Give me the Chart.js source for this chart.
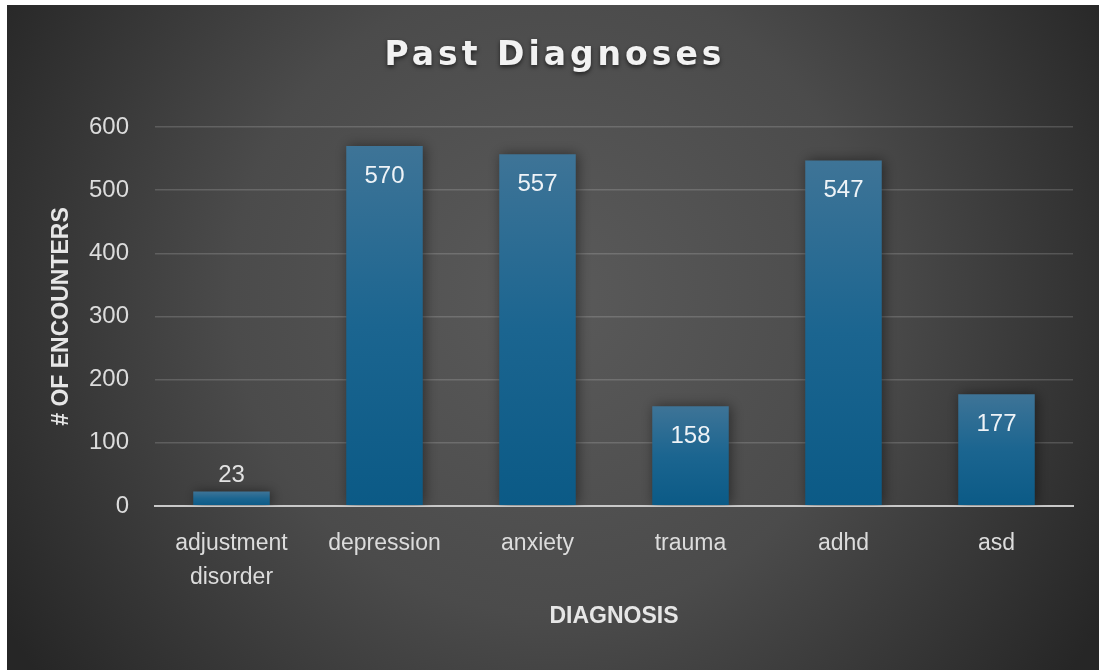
<!DOCTYPE html>
<html>
<head>
<meta charset="utf-8">
<script src="https://cdn.jsdelivr.net/npm/chart.js@4.4.1/dist/chart.umd.min.js"></script>
<style>
  html, body { margin: 0; padding: 0; background: #ffffff; }
  #wrap { position: absolute; left: 7px; top: 5px; width: 1092px; height: 665px; }
</style>
</head>
<body>
<div id="wrap"><canvas id="grafico"></canvas></div>
<script>
// Datos de la gráfica
const categorias = [['adjustment', 'disorder'], 'depression', 'anxiety', 'trauma', 'adhd', 'asd'];
const encuentros = [23, 570, 557, 158, 547, 177];
const ticksY = [0, 100, 200, 300, 400, 500, 600];

const titulo = 'Past Diagnoses';
const tituloX = 'DIAGNOSIS';
const tituloY = '# OF ENCOUNTERS';

// Fondo con degradado radial
const fondo = {
    id: 'fondo',
    beforeDraw(chart) {
        const { ctx, width, height } = chart;
        const g = ctx.createRadialGradient(546, 290, 0, 546, 290, 640);
        g.addColorStop(0, '#5a5a5a');
        g.addColorStop(0.5, '#4b4b4b');
        g.addColorStop(1, '#262626');
        ctx.save();
        ctx.fillStyle = g;
        ctx.fillRect(0, 0, width, height);
        ctx.restore();
    }
};

// Titulo con espaciado entre letras
const tituloPlugin = {
    id: 'tituloPlugin',
    afterDraw(chart) {
        const ctx = chart.ctx;
        ctx.save();
        ctx.font = 'bold 33px "DejaVu Sans"';
        ctx.letterSpacing = '4px';
        ctx.fillStyle = '#f2f2f2';
        ctx.textAlign = 'center';
        ctx.textBaseline = 'alphabetic';
        ctx.shadowColor = 'rgba(0,0,0,0.6)';
        ctx.shadowBlur = 4;
        ctx.shadowOffsetY = 2;
        ctx.fillText(titulo, chart.width / 2 + 2, 60);
        ctx.restore();
    }
};

// Sombra de las barras
const sombra = {
    id: 'sombra',
    beforeDatasetsDraw(chart) {
        const ctx = chart.ctx;
        ctx.save();
        ctx.shadowColor = 'rgba(0,0,0,0.45)';
        ctx.shadowBlur = 12;
        ctx.shadowOffsetX = 2;
    },
    afterDatasetsDraw(chart) {
        chart.ctx.restore();
    }
};

// Etiquetas de valores
const etiquetas = {
    id: 'etiquetas',
    afterDatasetsDraw(chart) {
        const ctx = chart.ctx;
        const meta = chart.getDatasetMeta(0);
        ctx.save();
        ctx.font = '24px "Liberation Sans"';
        ctx.textAlign = 'center';
        ctx.textBaseline = 'middle';
        meta.data.forEach(function(bar, i) {
            const alto = bar.base - bar.y;
            let y;
            if (alto > 50) {
                y = bar.y + 30;
                ctx.fillStyle = '#eef3f7';
            } else {
                y = bar.y - 16;
                ctx.fillStyle = '#e2e2e2';
            }
            ctx.fillText(String(encuentros[i]), bar.x, y);
        });
        ctx.restore();
    }
};

function colorBarra(context) {
    const chart = context.chart;
    if (!chart.chartArea || context.type !== 'data') return '#1b6189';
    const y = chart.scales.y;
    const top = y.getPixelForValue(context.raw);
    const base = y.getPixelForValue(0);
    if (!isFinite(top) || !isFinite(base) || base - top < 1) return '#1b6189';
    const g = chart.ctx.createLinearGradient(0, top, 0, base);
    g.addColorStop(0, '#3e7497');
    g.addColorStop(0.5, '#1b6590');
    g.addColorStop(1, '#0b5a86');
    return g;
}

const ctx = document.getElementById('grafico').getContext('2d');
const miGrafico = new Chart(ctx, {
    type: 'bar',
    data: {
        labels: categorias,
        datasets: [{
            label: tituloY,
            data: encuentros,
            backgroundColor: colorBarra,
            borderWidth: 0,
            barPercentage: 0.5,
            categoryPercentage: 1.0
        }]
    },
    options: {
        responsive: true,
        maintainAspectRatio: false,
        animation: false,
        layout: {
            padding: { top: 122, right: 26, left: 0, bottom: 0 }
        },
        plugins: {
            legend: { display: false },
            tooltip: { enabled: false }
        },
        scales: {
            x: {
                afterFit(scale) { scale.height = 164; },
                grid: { display: false },
                border: { display: true, color: '#c9c9c9', width: 2 },
                ticks: {
                    color: '#dcdcdc',
                    padding: 13,
                    maxRotation: 0,
                    autoSkip: false,
                    font: { family: '"Liberation Sans"', size: 23, lineHeight: 1.48 }
                },
                title: {
                    display: true,
                    text: tituloX,
                    color: '#e6e6e6',
                    font: { family: '"Liberation Sans"', size: 23, weight: 'bold' },
                    padding: { top: 0, bottom: 40 }
                }
            },
            y: {
                min: 0,
                max: 600,
                afterFit(scale) { scale.width = 148; },
                afterBuildTicks(scale) {
                    scale.ticks = ticksY.map(function(v) { return { value: v }; });
                },
                grid: {
                    drawTicks: false,
                    lineWidth(c) { return c.tick && c.tick.value === 0 ? 2 : 1.5; },
                    color(c) { return c.tick && c.tick.value === 0 ? '#c9c9c9' : 'rgba(255,255,255,0.16)'; }
                },
                border: { display: false },
                ticks: {
                    color: '#dcdcdc',
                    padding: 26,
                    font: { family: '"Liberation Sans"', size: 24 }
                },
                title: {
                    display: true,
                    text: tituloY,
                    color: '#e6e6e6',
                    font: { family: '"Liberation Sans"', size: 23, weight: 'bold' },
                    padding: { top: 41, bottom: 0 }
                }
            }
        }
    },
    plugins: [fondo, sombra, etiquetas, tituloPlugin]
});
</script>
</body>
</html>
